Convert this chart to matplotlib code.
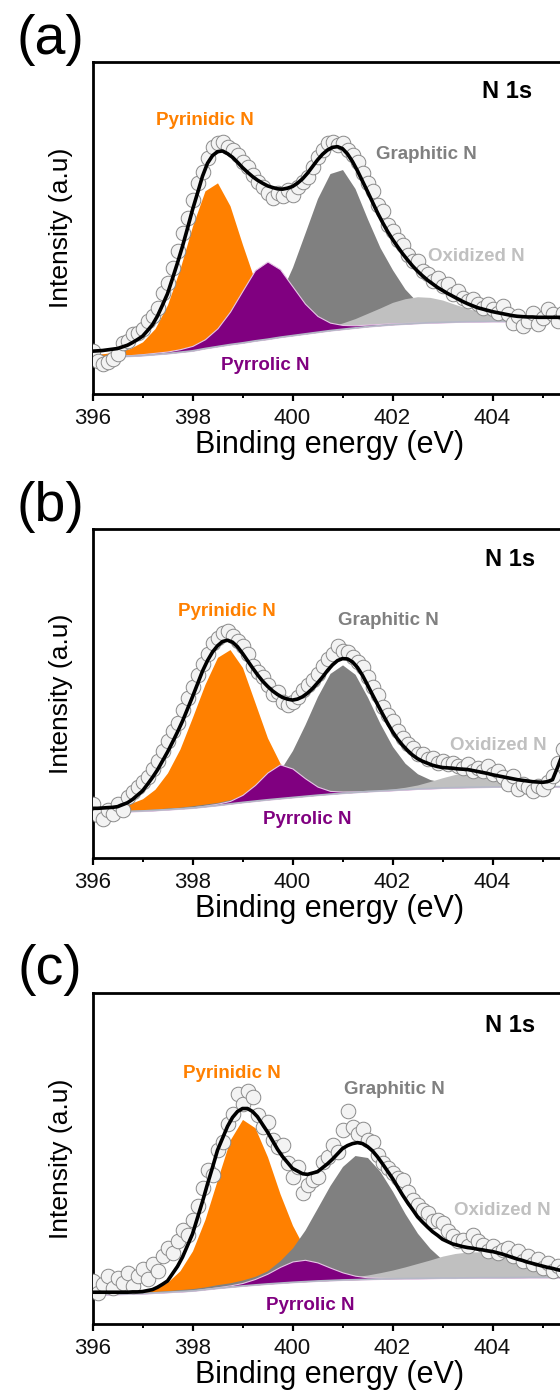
import matplotlib.pyplot as plt
import numpy as np

plt.rcParams['font.family'] = ['Liberation Sans', 'DejaVu Sans']

# intensities in % of the axes height
# fit components: 0.25 eV steps from 396 eV, heights above the background
# envelope: 0.1 eV steps from 396 eV, data points: 0.1 eV steps from 396 eV
E0 = 396.0
FIT_STEP = 0.25
PT_STEP = 0.1

a_base = [11.0, 11.1, 11.3, 11.4, 11.6, 11.9, 12.2, 12.6, 13.0, 13.7,
          14.3, 14.9, 15.4, 16.0, 16.5, 17.1, 17.6, 18.1, 18.6, 19.1,
          19.5, 19.9, 20.3, 20.6, 20.9, 21.1, 21.3, 21.5, 21.6, 21.7,
          21.8, 21.85, 21.9, 21.9, 21.95, 22.0, 22.0, 22.0, 22.0, 22.0, 22.0]
a_pyridinic = [0.9, 1.1, 1.5, 2.3, 4.1, 7.8, 14.7, 25.1, 37.6, 47.5,
               49.3, 41.8, 29.6, 18.0, 9.9, 5.1, 2.8, 1.7, 1.2, 0.9,
               0.8, 0.7, 0.6, 0.4, 0.2] + [0.0] * 16
a_pyrrolic = [0.2, 0.2, 0.3, 0.3, 0.4, 0.5, 0.6, 0.9, 1.5, 2.8,
              5.5, 9.9, 15.7, 21.3, 23.4, 20.5, 14.8, 9.1, 4.9, 2.4,
              1.3, 0.8, 0.6, 0.5, 0.4, 0.3, 0.2] + [0.0] * 14
a_graphitic = [0.3, 0.3, 0.4, 0.4, 0.5, 0.5, 0.6, 0.7, 0.9, 1.0,
               1.3, 1.7, 2.6, 4.3, 7.4, 12.7, 20.6, 30.4, 40.3, 47.3,
               48.1, 42.0, 32.4, 23.5, 16.5, 10.5, 6.3, 3.8, 2.4, 1.7,
               1.3, 1.0, 0.8, 0.7, 0.6, 0.55, 0.5, 0.45, 0.4, 0.35, 0.3]
a_oxidized = [0.0] * 12 + [0.15, 0.2, 0.2, 0.3, 0.4, 0.5, 0.8, 1.2, 1.9, 2.8,
                           4.0, 5.3, 6.7, 7.6, 8.0, 7.6, 6.7, 5.3, 4.0, 2.8,
                           1.9, 1.2, 0.8, 0.5, 0.4, 0.3, 0.2, 0.2, 0.15]
a_envelope = [12.9, 13.0, 13.1, 13.3, 13.5, 13.7, 14.2, 14.7, 15.5, 16.4,
              17.4, 19.1, 20.9, 23.5, 26.8, 30.2, 34.8, 39.5, 44.5, 49.9,
              55.5, 60.5, 65.6, 69.5, 71.8, 73.0, 73.2, 72.4, 71.3, 69.8,
              68.2, 66.8, 65.5, 64.4, 63.5, 62.7, 62.2, 61.8, 61.7, 62.0,
              62.5, 63.5, 64.8, 66.5, 68.5, 70.5, 72.2, 73.5, 74.3, 74.5,
              73.9, 72.3, 70.0, 67.2, 64.1, 61.0, 57.8, 54.6, 51.7, 49.0,
              46.6, 44.4, 42.3, 40.4, 38.6, 37.0, 35.6, 34.3, 33.2, 32.1,
              31.2, 30.3, 29.5, 28.7, 27.9, 27.2, 26.6, 26.0, 25.6, 25.2,
              24.8, 24.5, 24.2, 23.9, 23.6, 23.4, 23.3, 23.2, 23.2, 23.1,
              23.1, 23.1, 23.1, 23.1, 23.1, 23.1, 23.1, 23.1, 23.1, 23.1, 23.1]
a_points = [13.0, 10.0, 9.0, 9.5, 10.5, 12.0, 15.5, 16.0, 18.0, 18.5,
            19.5, 22.0, 23.5, 26.0, 30.5, 33.5, 38.0, 43.0, 48.5, 53.0,
            58.5, 63.5, 67.0, 71.0, 74.5, 75.5, 76.0, 74.5, 73.5, 72.0,
            70.0, 68.5, 66.0, 64.0, 62.5, 60.5, 59.0, 60.5, 59.5, 61.5,
            60.0, 62.5, 64.0, 65.5, 68.5, 71.5, 73.5, 75.5, 76.0, 75.0,
            75.5, 73.5, 72.0, 70.0, 66.5, 63.5, 61.0, 57.0, 55.0, 51.0,
            49.0, 46.5, 45.0, 42.0, 40.0, 40.0, 37.0, 36.0, 34.0, 35.0,
            32.5, 33.0, 30.0, 31.0, 29.0, 28.0, 28.5, 27.0, 26.0, 27.0,
            25.5, 24.5, 26.5, 24.0, 21.5, 23.5, 20.5, 22.0, 24.5, 21.0,
            23.0, 25.5, 24.0, 22.0, 24.5, 23.0]

b_base = [14.0, 14.05, 14.1, 14.2, 14.3, 14.5, 14.7, 14.95, 15.2, 15.6,
          16.0, 16.45, 16.9, 17.3, 17.7, 18.05, 18.4, 18.75, 19.1, 19.4,
          19.7, 19.95, 20.2, 20.4, 20.6, 20.8, 21.0, 21.15, 21.3, 21.4,
          21.5, 21.55, 21.6, 21.65, 21.65, 21.7, 21.7, 21.7, 21.7, 21.7, 21.7]
b_pyridinic = [0.9, 1.2, 1.6, 2.3, 3.7, 6.4, 11.2, 18.2, 27.6, 37.2,
               45.0, 46.9, 41.0, 29.9, 18.8, 10.8, 5.6, 3.1, 1.9, 1.3,
               1.0, 0.8, 0.6, 0.4, 0.2] + [0.0] * 16
b_pyrrolic = [0.0] * 6 + [0.1, 0.15, 0.2, 0.3,
                          0.5, 0.9, 2.3, 4.9, 8.3, 10.4, 8.8, 5.5, 2.6, 1.0,
                          0.5, 0.3, 0.2] + [0.0] * 18
b_graphitic = [0.2, 0.2, 0.3, 0.3, 0.4, 0.4, 0.5, 0.5, 0.7, 0.8,
               0.9, 1.3, 1.9, 2.8, 4.9, 8.6, 14.3, 21.8, 30.0, 36.7,
               39.0, 35.9, 28.7, 20.5, 13.3, 8.0, 4.6, 2.7, 1.7, 1.2,
               0.9, 0.7, 0.6, 0.5, 0.5, 0.4, 0.4, 0.3, 0.3, 0.2, 0.2]
b_oxidized = [0.0] * 22 + [0.15, 0.2, 0.4, 0.7, 1.2, 2.1, 3.1, 4.0, 4.5, 4.3,
                           3.5, 2.5, 1.5, 0.9, 0.5, 0.3, 0.2, 0.15, 0.1]
b_envelope = [15.1, 15.1, 15.2, 15.3, 15.4, 15.6, 16.2, 16.8, 17.8, 19.1,
              20.4, 22.4, 24.5, 26.8, 29.5, 32.2, 35.2, 38.3, 41.6, 45.3,
              49.0, 52.9, 56.8, 60.0, 62.6, 64.5, 65.8, 66.2, 65.6, 64.2,
              62.2, 60.0, 57.8, 55.7, 53.8, 52.2, 50.8, 49.7, 48.8, 48.3,
              48.0, 48.3, 49.0, 50.1, 51.5, 53.2, 55.0, 57.0, 58.7, 60.0,
              60.6, 60.5, 59.6, 57.9, 55.5, 52.6, 49.6, 46.7, 43.8, 41.0,
              38.4, 36.2, 34.3, 32.7, 31.3, 30.2, 29.4, 28.8, 28.2, 27.8,
              27.5, 27.4, 27.3, 27.1, 27.0, 26.9, 26.6, 26.3, 26.0, 25.7,
              25.3, 25.0, 24.7, 24.4, 24.1, 23.8, 23.6, 23.4, 23.2, 23.1,
              23.0, 23.2, 23.8, 27.5, 31.5, 35.0, 38.0, 40.5, 42.5, 44.0, 45.0]
b_points = [16.5, 13.0, 12.0, 14.5, 13.5, 16.5, 14.5, 18.5, 20.0, 21.5,
            23.0, 24.5, 27.0, 29.5, 32.5, 35.5, 38.5, 41.0, 45.0, 48.5,
            52.0, 55.5, 59.0, 62.0, 65.5, 67.0, 68.5, 69.0, 67.5, 66.0,
            64.5, 62.0, 58.5, 56.5, 55.0, 52.5, 50.0, 50.5, 47.5, 46.5,
            47.5, 49.0, 51.0, 52.5, 54.0, 56.0, 58.5, 60.5, 62.0, 64.5,
            63.0, 62.5, 61.0, 59.5, 58.0, 55.0, 52.0, 49.5, 46.0, 43.5,
            41.5, 38.5, 36.5, 34.5, 33.5, 31.5, 31.5, 30.0, 30.5, 29.0,
            29.5, 28.5, 29.0, 28.0, 27.5, 28.5, 26.5, 27.5, 26.5, 28.0,
            25.5, 26.5, 24.5, 22.5, 25.0, 21.0, 22.5, 21.5, 20.5, 22.0,
            21.0, 23.0, 25.0, 29.0, 33.0, 38.0]

c_base = [8.8, 8.9, 9.0, 9.1, 9.2, 9.4, 9.6, 9.8, 10.0, 10.4,
          10.8, 11.15, 11.5, 11.8, 12.1, 12.35, 12.6, 12.8, 13.0, 13.15,
          13.3, 13.4, 13.5, 13.6, 13.7, 13.75, 13.8, 13.85, 13.9, 13.9,
          13.95, 14.0, 14.0, 14.0, 14.05, 14.1, 14.1, 14.1, 14.1, 14.1, 14.1]
c_pyridinic = [0.2, 0.2, 0.3, 0.4, 0.6, 1.2, 3.0, 6.3, 12.1, 21.2,
               32.9, 44.4, 50.3, 47.5, 38.4, 27.0, 17.2, 9.8, 5.2, 3.1,
               2.0, 1.5, 1.1, 0.9, 0.7, 0.5, 0.4, 0.3, 0.2] + [0.0] * 12
c_pyrrolic = [0.0] * 8 + [0.1, 0.2,
                          0.3, 0.5, 0.9, 1.8, 3.1, 4.9, 6.3, 6.6, 5.6, 3.9,
                          2.3, 1.2, 0.6, 0.35, 0.2, 0.1] + [0.0] * 15
c_graphitic = [0.3, 0.3, 0.3, 0.35, 0.4, 0.45, 0.5, 0.6, 0.7, 0.8,
               1.1, 1.3, 1.8, 2.6, 4.0, 6.8, 10.4, 15.6, 22.1, 28.7,
               34.3, 37.5, 36.8, 32.5, 26.4, 19.6, 13.6, 9.0, 5.5, 3.5,
               2.3, 1.6, 1.2, 0.9, 0.8, 0.7, 0.6, 0.5, 0.5, 0.4, 0.4]
c_oxidized = [0.0] * 14 + [0.1, 0.15, 0.2, 0.3, 0.4, 0.55, 0.7, 0.9, 1.3, 1.9,
                           2.6, 3.5, 4.5, 5.5, 6.6, 7.4, 7.8, 7.8, 7.4, 6.6,
                           5.5, 4.5, 3.5, 2.6, 1.9, 1.3, 0.9]
c_envelope = [9.6, 9.6, 9.6, 9.6, 9.6, 9.6, 9.6, 9.6, 9.7, 9.7,
              9.8, 10.1, 10.4, 11.1, 12.0, 13.0, 15.2, 17.4, 20.2, 23.7,
              27.2, 32.1, 37.0, 42.3, 47.3, 52.5, 56.1, 59.7, 62.4, 64.2,
              65.1, 65.1, 64.2, 62.6, 60.3, 58.0, 55.4, 52.8, 50.6, 48.8,
              47.0, 46.2, 45.4, 45.2, 45.6, 46.0, 47.2, 48.4, 49.8, 51.4,
              53.0, 53.9, 54.5, 54.8, 54.5, 53.6, 52.3, 50.5, 48.4, 46.2,
              44.0, 41.5, 39.0, 36.7, 34.6, 32.4, 30.8, 29.3, 27.9, 26.8,
              25.6, 24.9, 24.2, 23.8, 23.4, 23.1, 22.9, 22.6, 22.4, 22.1,
              21.9, 21.5, 21.1, 20.6, 20.1, 19.6, 19.2, 18.7, 18.3, 17.9,
              17.5, 17.1, 16.8, 16.4, 16.1, 15.8, 15.5, 15.3, 15.1, 14.9, 14.8]
c_points = [13.0, 9.5, 12.0, 14.5, 11.0, 14.0, 12.5, 15.5, 11.5, 14.5,
            16.5, 13.5, 18.0, 16.0, 20.5, 23.0, 21.5, 25.0, 28.5, 27.0,
            31.5, 35.5, 41.0, 46.5, 45.0, 52.5, 55.0, 60.5, 63.5, 69.5,
            66.5, 70.5, 68.5, 63.0, 59.5, 61.0, 55.5, 53.5, 54.0, 48.5,
            44.5, 47.5, 39.5, 42.0, 43.5, 44.5, 49.0, 50.5, 54.0, 52.0,
            58.5, 64.5, 59.5, 57.5, 59.0, 55.5, 55.0, 51.0, 48.5, 47.0,
            45.5, 44.0, 43.5, 40.0, 37.5, 36.0, 34.5, 33.5, 31.0, 31.5,
            30.5, 28.0, 26.5, 25.0, 25.5, 23.5, 27.0, 25.0, 24.0, 22.0,
            23.5, 21.5, 22.5, 23.0, 20.5, 22.0, 19.0, 20.5, 18.0, 19.5,
            17.0, 18.5, 16.0, 17.5, 16.0, 15.0]

ORANGE = '#ff8000'
PURPLE = '#800080'
GRAY = '#808080'
LIGHT = '#c0c0c0'

panels = [
    dict(tag='(a)', base=a_base, pyr=a_pyridinic, pyl=a_pyrrolic, gra=a_graphitic,
         oxi=a_oxidized, env=a_envelope, pts=a_points,
         rect=[92.5, 394, 332], tag_y=40,
         txt={'n1s': (404.29, 91.0), 'pyr': (398.25, 82.5), 'gra': (402.67, 72.0),
              'oxi': (403.67, 41.4, 'center'), 'pyl': (399.45, 8.7)}),
    dict(tag='(b)', base=b_base, pyr=b_pyridinic, pyl=b_pyrrolic, gra=b_graphitic,
         oxi=b_oxidized, env=b_envelope, pts=b_points,
         rect=[92.5, 858, 329], tag_y=507,
         txt={'n1s': (404.36, 90.6), 'pyr': (398.68, 74.9), 'gra': (401.92, 72.1),
              'oxi': (404.12, 34.3, 'center'), 'pyl': (400.29, 11.6)}),
    dict(tag='(c)', base=c_base, pyr=c_pyridinic, pyl=c_pyrrolic, gra=c_graphitic,
         oxi=c_oxidized, env=c_envelope, pts=c_points,
         rect=[92.5, 1324, 331], tag_y=970,
         txt={'n1s': (404.36, 90.3), 'pyr': (398.78, 75.7), 'gra': (402.03, 70.9),
              'oxi': (403.22, 34.4, 'left'), 'pyl': (400.36, 5.7)}),
]

W, H = 560, 1390
XMIN, XMAX = 396, 406.5
PX_PER_EV = 50.0

fig = plt.figure(figsize=(W / 100, H / 100), dpi=100)

for p in panels:
    left, bottom, height = p['rect']
    width = (XMAX - XMIN) * PX_PER_EV
    ax = fig.add_axes([left / W, 1 - bottom / H, width / W, height / H])

    base = np.array(p['base'])
    xf = E0 + FIT_STEP * np.arange(len(base))
    xe = E0 + PT_STEP * np.arange(len(p['env']))
    xp = E0 + PT_STEP * np.arange(len(p['pts']))

    ax.fill_between(xf, base, base + np.array(p['pyr']), color=ORANGE, lw=0, zorder=1)
    ax.fill_between(xf, base, base + np.array(p['gra']), color=GRAY, lw=0, zorder=2)
    ax.fill_between(xf, base, base + np.array(p['oxi']), color=LIGHT, lw=0, zorder=3)
    ax.fill_between(xf, base, base + np.array(p['pyl']), facecolor=PURPLE,
                    edgecolor='#e6c6e6', lw=0.8, zorder=4)
    ax.plot(xf, base, color='#b4b8c6', lw=1.2, zorder=5)

    ax.plot(xp, p['pts'], 'o', ms=10.5, mfc='#f3f3f3', mec='#8a8a8a', mew=0.7, zorder=6)
    ax.plot(xe, p['env'], color='black', lw=2.6, zorder=7)

    ax.set_xlim(XMIN, XMAX)
    ax.set_ylim(0, 100)
    ax.set_yticks([])
    ax.set_xticks([396, 398, 400, 402, 404])
    ax.set_xticks([397, 399, 401, 403, 405], minor=True)
    ax.tick_params(axis='x', which='major', direction='out', length=5, width=1.6,
                   labelsize=16, pad=5, labelcolor='#111111')
    ax.tick_params(axis='x', which='minor', direction='out', length=3, width=1.4)
    for s in ax.spines.values():
        s.set_linewidth(2.0)

    ax.set_xlabel('Binding energy (eV)', fontsize=22, va='center')
    ax.xaxis.set_label_coords((330 - left) / width, -51 / height)
    ax.set_ylabel('Intensity (a.u)', fontsize=19, va='center')
    ax.yaxis.set_label_coords((61 - left) / width, 0.5)

    t = p['txt']
    ax.text(*t['n1s'], 'N 1s', fontsize=17, fontweight='bold', ha='center', va='center')
    ax.text(*t['pyr'], 'Pyrinidic N', fontsize=13.5, fontweight='bold',
            color=ORANGE, ha='center', va='center')
    ax.text(*t['gra'], 'Graphitic N', fontsize=13.5, fontweight='bold',
            color=GRAY, ha='center', va='center')
    ax.text(t['oxi'][0], t['oxi'][1], 'Oxidized N', fontsize=13.5, fontweight='bold',
            color=LIGHT, ha=t['oxi'][2], va='center')
    ax.text(*t['pyl'], 'Pyrrolic N', fontsize=13.5, fontweight='bold',
            color=PURPLE, ha='center', va='center')

    fig.text(50 / W, 1 - p['tag_y'] / H, p['tag'], fontsize=40, ha='center', va='center')

fig.savefig('out.png', dpi=100)
